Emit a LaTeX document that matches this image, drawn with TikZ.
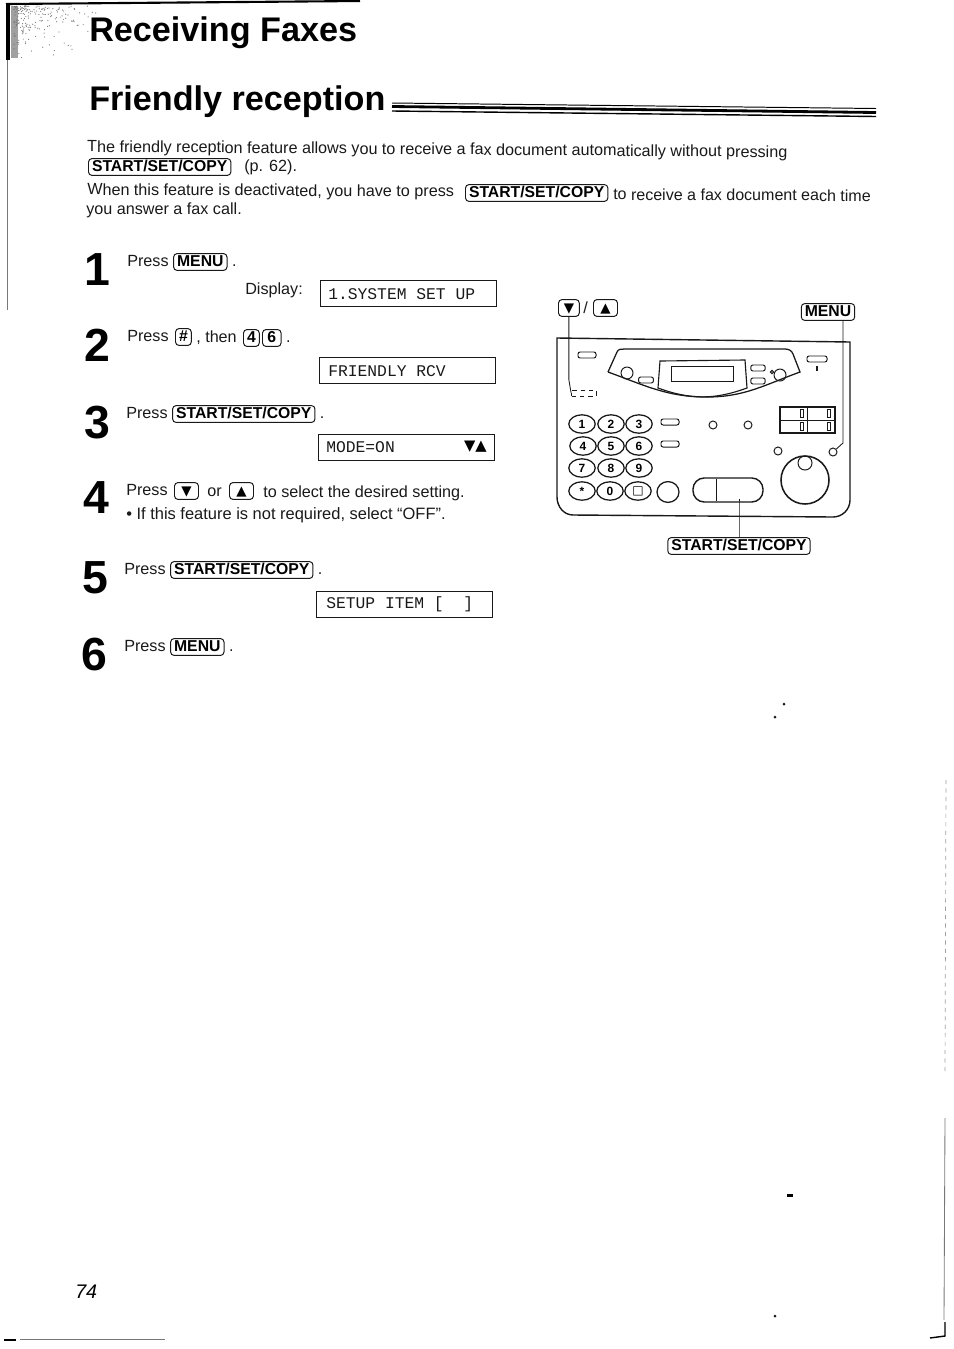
\documentclass[tikz,border=0pt]{standalone}
\usepackage{fontspec}
\setmainfont{Liberation Sans}
\setmonofont{Liberation Mono}
\newfontfamily\symfont{DejaVu Sans}
\usetikzlibrary{positioning,shapes.geometric}
\definecolor{inkblack}{RGB}{25, 25, 25}
\definecolor{scangray}{RGB}{120, 120, 120}
\tikzset{
  bodytext/.style={anchor=west, inner sep=0pt, text height=9pt, text depth=2pt, font=\fontsize{11.5pt}{13pt}\selectfont, text=inkblack},
  steptext/.style={anchor=west, inner sep=0pt, text height=9pt, text depth=2pt, font=\fontsize{11.5pt}{13pt}\selectfont, text=inkblack},
  stepnum/.style={anchor=west, inner sep=0pt, font=\fontsize{33pt}{36pt}\selectfont\bfseries, text=black},
  keycap/.style={draw=inkblack, rounded corners=2.5pt, inner xsep=2.5pt, inner ysep=0.5pt, text height=9pt, text depth=2pt, line width=0.7pt, font=\fontsize{11.2pt}{12pt}\selectfont\bfseries, text=black},
  symkey/.style={keycap, inner xsep=0pt, minimum width=0.6cm, font=\fontsize{9.5pt}{10pt}\selectfont\symfont},
  headtext/.style={anchor=west, inner sep=0pt, font=\fontsize{24.3pt}{28pt}\selectfont\bfseries, text=black},
  lcdbox/.style={draw=inkblack, anchor=north west, minimum width=4.4cm, minimum height=0.65cm, inner sep=0pt},
  lcdtext/.style={anchor=west, inner sep=0pt, font=\fontsize{11.6pt}{12pt}\selectfont\ttfamily, text=inkblack},
  dialkey/.style={draw=inkblack, line width=0.9pt, ellipse, minimum width=0.66cm, minimum height=0.46cm, inner sep=0pt, font=\fontsize{8.5pt}{9pt}\selectfont\bfseries},
  pill/.style={draw=inkblack, line width=0.7pt, rounded corners=1.5pt, minimum width=0.45cm, minimum height=0.15cm, inner sep=0pt},
  roundbtn/.style={draw=inkblack, line width=0.7pt, circle, minimum size=0.2cm, inner sep=0pt},
  leader/.style={draw=inkblack, line width=0.6pt}
}
\begin{document}
\begin{tikzpicture}[x=0.025cm, y=-0.025cm]
\useasboundingbox (0,0) rectangle (954,1349);

% headings
\fill[scangray!70] (11,6) rectangle (18,58);
\pgfmathsetseed{74}
\foreach \i in {1,...,200} {
  \pgfmathsetmacro{\spx}{14+85*rnd*rnd}
  \pgfmathsetmacro{\spy}{6+52*rnd*rnd}
  \fill[scangray] (\spx,\spy) circle (0.6);
}
\draw[black, line width=3pt] (8,60) -- (8,5);
\draw[black, line width=1.5pt] (6,4) -- (360,1);
\draw[scangray, line width=0.7pt] (7,60) -- (7,310);
\node[headtext] (chapter) at (89,33) {Receiving Faxes};
\node[headtext] (section) at (89,102) {Friendly reception};
\draw[black, line width=0.7pt] (392,103) -- (876,108.5);
\draw[black, line width=2pt] (392,106.5) -- (876,112.5);
\draw[black, line width=1pt] (392,111) -- (876,116.5);

% intro
\node[bodytext, rotate=-0.45] (introa) at (87,147) {The friendly reception feature allows you to receive a fax document automatically without pressing};
\node[keycap, anchor=west] (introkeya) at (88,167) {START/SET/COPY};
\node[bodytext] (introb) at (244,167) {(p. 62).};
\node[bodytext, rotate=-0.3] (introc) at (87,190) {When this feature is deactivated, you have to press};
\node[keycap, anchor=west] (introkeyb) at (465,193) {START/SET/COPY};
\node[bodytext, rotate=-0.3, font=\fontsize{11.4pt}{13pt}\selectfont] (introd) at (613,195) {to receive a fax document each time};
\node[bodytext] (introe) at (86,210) {you answer a fax call.};

% steps
\node[stepnum] (numa) at (84,270) {1};
\node[steptext] (stepa) at (127,262) {Press};
\node[keycap, right=3pt of stepa] (menua) {MENU};
\node[steptext, right=3pt of menua] (stepadot) {.};
\node[steptext] (displaylabel) at (245,290) {Display:};
\node[lcdbox] (lcda) at (320,280) {};
\node[lcdtext] (lcdatext) at (328,294) {1.SYSTEM SET UP};

\node[stepnum] (numb) at (84,345) {2};
\node[steptext] (stepb) at (127,337) {Press};
\node[keycap, anchor=west, inner xsep=2.5pt] (hashkey) at (175,337) {\#};
\node[steptext] (stepbthen) at (196,338) {, then};
\node[keycap, anchor=west, inner xsep=2.5pt] (keyfour) at (243,338) {4};
\node[keycap, anchor=west, inner xsep=3.5pt] (keysix) at (262,338) {6};
\node[steptext, right=3pt of keysix] (stepbdot) {.};
\node[lcdbox] (lcdb) at (319,357) {};
\node[lcdtext] (lcdbtext) at (328,371) {FRIENDLY RCV};

\node[stepnum] (numc) at (84,423) {3};
\node[steptext] (stepc) at (126,414) {Press};
\node[keycap, right=3pt of stepc] (startc) {START/SET/COPY};
\node[steptext, right=3pt of startc] (stepcdot) {.};
\node[lcdbox] (lcdc) at (318,434) {};
\node[lcdtext] (lcdctext) at (326,447) {MODE=ON};
\node[anchor=east, inner sep=0pt, font=\fontsize{10.5pt}{11pt}\selectfont\symfont] (lcdcsym) at (487,447) {▼▲};

\node[stepnum] (numd) at (83,498) {4};
\node[steptext] (stepd) at (126,491) {Press};
\node[symkey, anchor=west] (downd) at (174,491) {▼};
\node[steptext] (stepdor) at (207,492) {or};
\node[symkey, anchor=west] (upd) at (229,491) {▲};
\node[steptext] (stepdrest) at (263,493) {to select the desired setting.};
\node[steptext, font=\fontsize{11.7pt}{13pt}\selectfont] (stepdnote) at (126,515) {\textbullet\ If this feature is not required, select “OFF”.};

\node[stepnum] (nume) at (82,578) {5};
\node[steptext] (stepe) at (124,570) {Press};
\node[keycap, right=3pt of stepe] (starte) {START/SET/COPY};
\node[steptext, right=3pt of starte] (stepedot) {.};
\node[lcdbox] (lcde) at (316,591) {};
\node[lcdtext] (lcdetext) at (326,604) {SETUP ITEM [ \ ]};

\node[stepnum] (numf) at (81,655) {6};
\node[steptext] (stepf) at (124,647) {Press};
\node[keycap, right=3pt of stepf] (menuf) {MENU};
\node[steptext, right=3pt of menuf] (stepfdot) {.};

% panel
\node[symkey, anchor=west, minimum width=0.52cm] (keydown) at (558,308) {▼};
\node[steptext] (keyslash) at (583,309) {/};
\node[symkey, anchor=west] (keyup) at (593,308) {▲};
\node[keycap] (keymenu) at (828,312) {MENU};
\node[keycap] (keystart) at (739,546) {START/SET/COPY};

\draw[inkblack, line width=1pt] (557,338) -- (850,342) -- (850,500) to[out=90+180,in=0] (833,517) -- (573,515) to[out=180,in=270] (557,497) -- cycle;
\draw[inkblack, line width=0.9pt] (608,372) -- (617,352) to[out=70,in=180] (625,349) -- (785,349) to[out=0,in=110] (793,354) -- (800,372) to[out=200,in=0] (707,397) to[out=180,in=-20] (608,372);
\draw[inkblack, line width=0.8pt] (660,361) -- (745,360) -- (747,388) to[out=200,in=-20] (658,388) -- cycle;
\draw[inkblack, line width=0.7pt] (671,366) rectangle (733,381);

\node[roundbtn, minimum size=0.3cm] (lcdleft) at (627,373) {};
\node[roundbtn, minimum size=0.3cm] (lcdright) at (780,375) {};
\node[roundbtn, minimum size=0.08cm] (lcdled) at (772,372) {};
\node[pill, minimum width=0.37cm] (lcdpill) at (646,380) {};
\node[pill, minimum width=0.36cm] (lcdpilla) at (758,368) {};
\node[pill, minimum width=0.36cm] (lcdpillb) at (758,381) {};
\node[pill] (pilltop) at (587,355) {};
\node[pill, minimum width=0.5cm] (pillright) at (817,359) {};
\fill[inkblack] (816,366) rectangle (818,371);
\node[pill, dashed, rounded corners=0pt, minimum width=0.62cm] (hookswitch) at (584,393) {};
\node[pill] (pilla) at (670,422) {};
\node[pill] (pillb) at (670,444) {};

\foreach \name/\px/\py/\lab in {a/582/424/1, b/611/424/2, c/639/424/3, d/583/446/4, e/611/446/5, f/639/446/6, g/582/468/7, h/611/468/8, i/639/468/9, j/582/491/*, k/610/491/0} {
  \node[dialkey] (dial\name) at (\px,\py) {\lab};
}
\node[dialkey] (diall) at (638,491) {\symfont □};
\node[dialkey, minimum width=0.55cm, minimum height=0.52cm] (dialm) at (668,492) {};

\node[roundbtn] (ledb) at (713,425) {};
\node[roundbtn] (ledc) at (748,425) {};
\node[roundbtn] (ledd) at (778,451) {};
\node[roundbtn] (lede) at (833,452) {};
\node[draw=inkblack, line width=1.1pt, circle, minimum size=1.2cm, inner sep=0pt] (dial) at (805,480) {};
\node[roundbtn, minimum size=0.35cm] (dialknob) at (805,463) {};

\node[draw=inkblack, line width=1pt, rounded corners=8pt, minimum width=1.75cm, minimum height=0.6cm, inner sep=0pt] (startbtn) at (728,490) {};
\draw[inkblack, double, double distance=0.5pt] (717,479) -- (717,501);

\draw[inkblack, line width=0.9pt] (780,407) rectangle (835,433);
\draw[inkblack] (780,420) -- (835,420);
\draw[inkblack] (807,407) -- (807,433);
\foreach \px/\py in {802/413, 829/413, 802/426, 829/426} {
  \draw[inkblack] (\px-1.5,\py-4) rectangle (\px+1.5,\py+4);
}

\coordinate (bendleft) at (563,380);
\draw[leader] (keydown.south) -- (keydown.south |- bendleft) -- (hookswitch.west);
\coordinate (bendright) at (843,443);
\draw[leader] (keymenu.south -| bendright) -- (bendright) -- (lede);
\draw[leader] (keystart.north) -- (startbtn.south -| keystart.north) -- ++(0,-4);

% page marks
\node[anchor=west, inner sep=0pt, font=\fontsize{14pt}{15pt}\selectfont\itshape] (pagenum) at (75,1292) {74};
\fill[black] (787,1194) rectangle (793,1197);
\fill[inkblack] (775,1316) circle (1.5);
\fill[inkblack] (775,717) circle (1.5);
\fill[inkblack] (784,704) circle (1.5);
\draw[scangray!70, line width=0.5pt, dash pattern=on 3pt off 3pt] (946,780) -- (945,1075);
\draw[scangray, line width=0.6pt] (945,1118) -- (944,1320);
\draw[black, line width=1pt] (930,1338) -- (945,1336) -- (945,1322);
\draw[black, line width=1pt] (4,1340) -- (16,1340);
\draw[scangray] (20,1339) -- (165,1339);
\end{tikzpicture}
\end{document}
